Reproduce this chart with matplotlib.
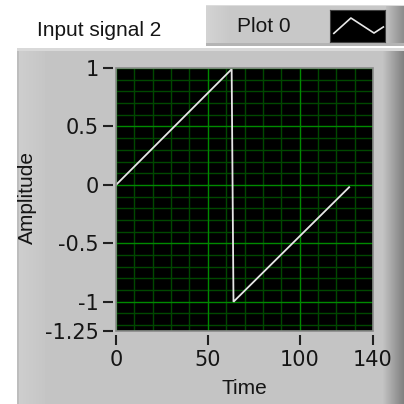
import numpy as np
import matplotlib
matplotlib.use("Agg")
import matplotlib.pyplot as plt
from matplotlib.patches import Rectangle
from matplotlib.ticker import FixedLocator

# Waveform samples (time, amplitude)
time = [0, 63, 64, 127]
amplitude = [0.0, 0.99, -1.0, -0.02]

x_ticks = [0, 50, 100, 140]
x_tick_labels = ["0", "50", "100", "140"]
y_ticks = [1, 0.5, 0, -0.5, -1, -1.25]
y_tick_labels = ["1", "0.5", "0", "-0.5", "-1", "-1.25"]
x_limits = (0, 140)
y_limits = (-1.25, 1.0)

title = "Input signal 2"
legend_name = "Plot 0"
x_label = "Time"
y_label = "Amplitude"

FONT = "Liberation Sans"
FS = 15
W = 404.0


def fx(x):
    return x / W


def fy(y):
    return 1 - y / W


def box(x0, y0, x1, y1, color, z=0, **kw):
    fig.patches.append(Rectangle((fx(x0), fy(y1)), (x1 - x0) / W, (y1 - y0) / W,
                                 transform=fig.transFigure, facecolor=color,
                                 edgecolor="none", zorder=z, **kw))


def hgradient(x0, y0, x1, y1, c0, c1, z=0):
    gax = fig.add_axes([fx(x0), fy(y1), (x1 - x0) / W, (y1 - y0) / W], zorder=z)
    g = np.linspace(0, 1, 64)[None, :, None]
    c0 = np.array(matplotlib.colors.to_rgb(c0))
    c1 = np.array(matplotlib.colors.to_rgb(c1))
    img = c0 * (1 - g) + c1 * g
    gax.imshow(img, aspect="auto", interpolation="bilinear", extent=(0, 1, 0, 1))
    gax.set_axis_off()


fig = plt.figure(figsize=(4.04, 4.04), dpi=100, facecolor="white")

# Graph panel
box(17, 48, 404, 404, "#c4c4c4", z=0)
hgradient(17, 48, 44, 404, "#cfcfcf", "#c6c6c6", z=0.1)
box(17, 48, 19, 404, "#bdbdbd", z=0.2)
box(17, 48, 404, 51, "#d9d9d9", z=0.2)
hgradient(382, 48, 404, 404, "#c6c6c6", "#808080", z=0.1)

# Legend strip
box(206, 5, 404, 46, "#c8c8c8", z=0.3)
hgradient(206, 5, 230, 46, "#d4d4d4", "#c8c8c8", z=0.35)
hgradient(386, 5, 404, 46, "#c0c0c0", "#8c8c8c", z=0.36)
box(206, 43, 404, 46, "#b4b4b4", z=0.4)
box(206, 5, 404, 6, "#dcdcdc", z=0.4)
fig.text(fx(237), fy(26), legend_name, ha="left", va="center", fontsize=FS,
         family=FONT, color="#151515")
iax = fig.add_axes([fx(330), fy(42), 55 / W, 32 / W], zorder=1)
iax.set_facecolor("black")
iax.set_xlim(0, 1)
iax.set_ylim(0, 1)
iax.plot([0.07, 0.38, 0.8, 0.97], [0.27, 0.75, 0.28, 0.47], color="#e8e8e8", lw=1.2)
iax.set_xticks([])
iax.set_yticks([])
for s in iax.spines.values():
    s.set_color("#404040")
    s.set_linewidth(0.8)

fig.text(fx(99), fy(30), title, ha="center", va="center", fontsize=FS,
         family=FONT, color="#151515")

# Plot area
ax = fig.add_axes([fx(116), fy(331), (373 - 116) / W, (331 - 68) / W], zorder=2)
ax.set_facecolor("black")
ax.set_xlim(*x_limits)
ax.set_ylim(*y_limits)

x_minor = [v for v in range(10, 140, 10) if v not in x_ticks]
y_minor = [round(v, 2) for v in np.arange(-1.2, 1.0, 0.1)
           if all(abs(v - t) > 1e-6 for t in y_ticks)]
for v in x_minor:
    ax.axvline(v, color="#004800", lw=1.0, zorder=1)
for v in y_minor:
    ax.axhline(v, color="#004800", lw=1.0, zorder=1)
for v in x_ticks:
    ax.axvline(v, color="#008a00", lw=1.0, zorder=1.5)
for v in y_ticks:
    ax.axhline(v, color="#008a00", lw=1.0, zorder=1.5)

ax.plot(time, amplitude, color="#e6e6e6", lw=1.3, zorder=3, solid_joinstyle="miter")

ax.xaxis.set_major_locator(FixedLocator(x_ticks))
ax.set_xticklabels(x_tick_labels)
ax.yaxis.set_major_locator(FixedLocator(y_ticks))
ax.set_yticklabels(y_tick_labels)
ax.tick_params(axis="both", direction="out", length=7.2, width=1.5, color="#202020",
               labelsize=FS, labelcolor="#151515")
ax.tick_params(axis="y", pad=3)
ax.tick_params(axis="x", pad=3.5)
for lab in ax.get_xticklabels() + ax.get_yticklabels():
    lab.set_family(FONT)
for side, s in ax.spines.items():
    s.set_visible(False)
ax.spines["left"].set_position(("outward", 2.2))
ax.spines["bottom"].set_position(("outward", 2.9))
ax.add_patch(Rectangle((0, 0), 1, 1, transform=ax.transAxes, fill=False,
                       edgecolor="#8a8a8a", lw=1.2, zorder=5, clip_on=False))

fig.text(fx(244), fy(388), x_label, ha="center", va="center", fontsize=FS,
         family=FONT, color="#151515")
fig.text(fx(27), fy(198), y_label, ha="center", va="center", fontsize=FS,
         family=FONT, color="#151515", rotation=90)

fig.savefig("out.png", dpi=100, facecolor="white")
